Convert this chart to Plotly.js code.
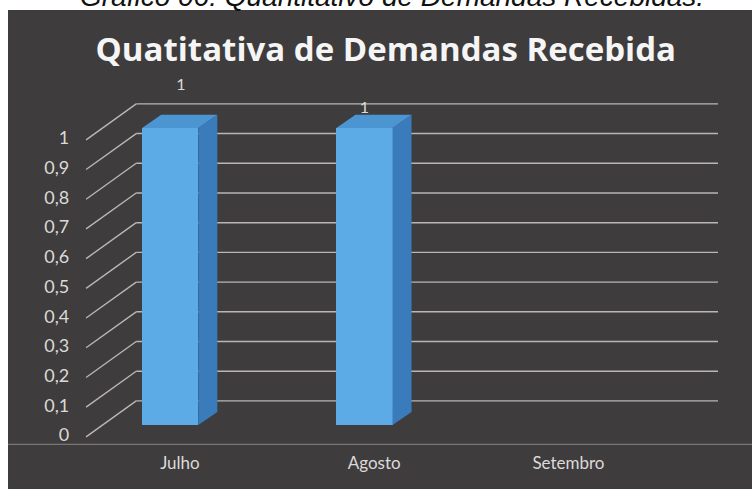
<!DOCTYPE html>
<html>
<head>
<meta charset="utf-8">
<script src="https://cdn.plot.ly/plotly-3.0.1.min.js"></script>
<style>
html,body{margin:0;padding:0;background:#ffffff;}
#chart{width:752px;height:489px;}
</style>
</head>
<body>
<div id="chart"></div>
<script>
// ---- data ----
const categories = ['Julho', 'Agosto', 'Setembro'];
const values = [1, 1, 0];
const dataLabels = ['1', '1', ''];
const tickValues = [0, 0.1, 0.2, 0.3, 0.4, 0.5, 0.6, 0.7, 0.8, 0.9, 1];
const tickLabels = ['0', '0,1', '0,2', '0,3', '0,4', '0,5', '0,6', '0,7', '0,8', '0,9', '1'];
const chartTitle = 'Quatitativa de Demandas Recebida';
const caption = 'Gráfico 06: Quantitativo de Demandas Recebidas.';

// ---- style / pseudo-3D geometry ----
const BAR_W = 0.289, DX = 0.098, DY = 0.044;
const WALL_DY = 0.081, LABEL_DY = -0.040;
const WALL_X0 = -0.175, WALL_X1 = 2.82, DIAG_X0 = -0.433, TICK_X = -0.52;
const CAT_DX = 0.05, CAT_Y = -0.135;
const LABEL_LIFT = [0.141, 0.064, 0.06];
const LABEL_DXS = [0.055, 0.0, 0.0];
const BG = '#3e3c3c', GRID = '#b9b6b3', TXT = '#dcdad8';
const FRONT = '#5dabe6', SIDE = '#3a7bbb', TOP = '#4c95d3';

const shapes = [];
tickValues.forEach(t => {
  shapes.push({type: 'line', layer: 'below', xref: 'x', yref: 'y',
    x0: DIAG_X0, y0: t + LABEL_DY, x1: WALL_X0, y1: t + WALL_DY,
    line: {color: GRID, width: 1.4}});
  shapes.push({type: 'line', layer: 'below', xref: 'x', yref: 'y',
    x0: WALL_X0, y0: t + WALL_DY, x1: WALL_X1, y1: t + WALL_DY,
    line: {color: GRID, width: 1.4}});
});
// faint scan line of the photographed page
shapes.push({type: 'line', layer: 'below', xref: 'paper', yref: 'y', x0: 0, x1: 1,
  y0: CAT_Y + 0.07, y1: CAT_Y + 0.07, line: {color: '#8a8684', width: 1}});

const traces = [];
traces.push({
  type: 'bar', x: categories.map((c, i) => i), y: values, width: BAR_W,
  marker: {color: FRONT, line: {width: 0}}, hoverinfo: 'skip', showlegend: false
});
values.forEach((v, i) => {
  if (v <= 0) return;
  const r = i + BAR_W / 2, l = i - BAR_W / 2;
  traces.push({type: 'scatter', mode: 'lines', fill: 'toself', fillcolor: SIDE,
    line: {width: 0, color: SIDE}, hoverinfo: 'skip', showlegend: false,
    x: [r, r + DX, r + DX, r, r], y: [0, DY, v + DY, v, 0]});
  traces.push({type: 'scatter', mode: 'lines', fill: 'toself', fillcolor: TOP,
    line: {width: 0, color: TOP}, hoverinfo: 'skip', showlegend: false,
    x: [l, r, r + DX, l + DX, l], y: [v, v, v + DY, v + DY, v]});
});
traces.push({type: 'scatter', mode: 'text', hoverinfo: 'skip', showlegend: false,
  x: values.map((v, i) => i + LABEL_DXS[i]), y: values.map((v, i) => v + LABEL_LIFT[i]),
  text: dataLabels, textfont: {family: 'Lato, sans-serif', size: 16, color: TXT}});
traces.push({type: 'scatter', mode: 'text', hoverinfo: 'skip', showlegend: false,
  x: tickValues.map(() => TICK_X), y: tickValues.map(t => t + LABEL_DY),
  text: tickLabels, textposition: 'middle left',
  textfont: {family: 'Lato, sans-serif', size: 18, color: TXT}});
traces.push({type: 'scatter', mode: 'text', hoverinfo: 'skip', showlegend: false,
  x: categories.map((c, i) => i + CAT_DX), y: categories.map(() => CAT_Y),
  text: categories, textfont: {family: 'Lato, sans-serif', size: 17, color: TXT}});

const layout = {
  width: 752, height: 489,
  margin: {l: 8, r: 0, t: 10, b: 0, pad: 0},
  paper_bgcolor: '#ffffff', plot_bgcolor: BG,
  title: {text: '<b>' + chartTitle + '</b>', xref: 'container', yref: 'container',
    x: 0.513, y: 0.898, xanchor: 'center', yanchor: 'middle',
    font: {family: 'Open Sans, sans-serif', size: 33, color: '#f5f5f5'}},
  xaxis: {range: [-0.835, 2.995], showgrid: false, zeroline: false, showticklabels: false,
    showline: false, ticks: '', fixedrange: true},
  yaxis: {range: [-0.2155, 1.397], showgrid: false, zeroline: false, showticklabels: false,
    showline: false, ticks: '', fixedrange: true},
  shapes: shapes,
  annotations: [{text: '<i>' + caption + '</i>', xref: 'paper', yref: 'paper',
    x: 0.516, y: 1, xanchor: 'center', yanchor: 'bottom', yshift: -4, showarrow: false,
    font: {family: 'Liberation Sans, Arial, sans-serif', size: 28, color: '#111111'}}],
  showlegend: false, bargap: 0
};
Plotly.newPlot('chart', traces, layout, {displayModeBar: false, staticPlot: true});
</script>
</body>
</html>
